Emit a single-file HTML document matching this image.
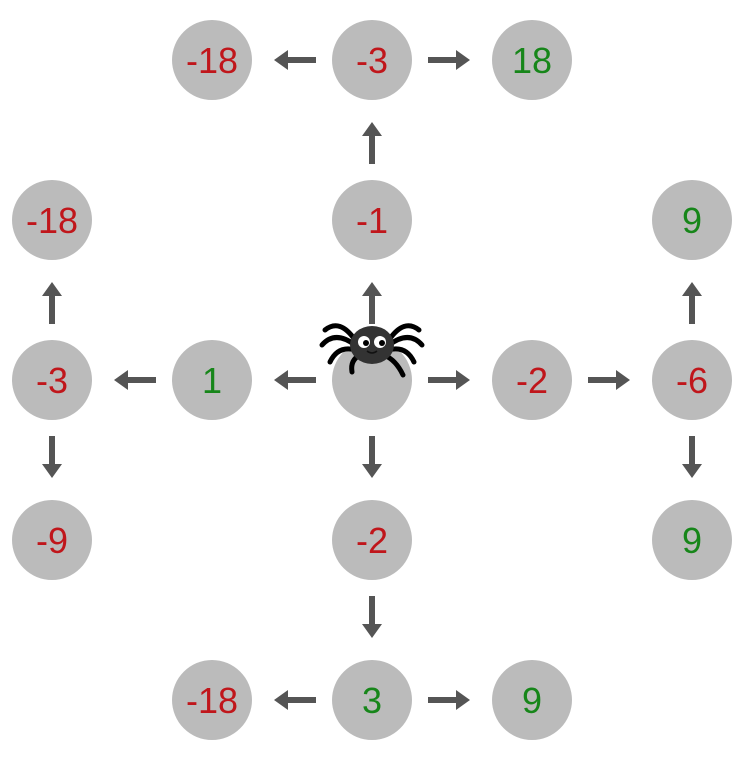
<!DOCTYPE html>
<html><head><meta charset="utf-8"><style>
body{margin:0;background:#fff;}
svg{display:block;}
text{font-family:"Liberation Sans",sans-serif;font-size:36px;}
</style></head><body>
<svg id="chart" width="744" height="758" viewBox="0 0 744 758"></svg>
<script>
const nodeCols=[1,2,3,0,2,4,0,1,3,4,0,2,4,1,2,3];
const nodeRows=[0,0,0,1,1,1,2,2,2,2,3,3,3,4,4,4];
const nodeValues=["-18","-3","18","-18","-1","9","-3","1","-2","-6","-9","-2","9","-18","3","9"];
const arrowFromCol=[2,2,2,2,2,2,2,1,0,0,3,4,4,2,2,2];
const arrowFromRow=[0,0,1,2,2,2,2,2,2,2,2,2,2,3,4,4];
const arrowDir=["L","R","U","U","L","R","D","L","U","D","R","U","D","D","L","R"];
const NS="http://www.w3.org/2000/svg";
const svg=document.getElementById('chart');
const cx=c=>52+160*c, cy=r=>60+160*r;
function mk(t,a){const e=document.createElementNS(NS,t);for(const k in a)e.setAttribute(k,a[k]);return e;}
nodeValues.forEach((v,i)=>{
  const g=mk('g',{});
  
  
  g.appendChild(mk('circle',{cx:cx(nodeCols[i]),cy:cy(nodeRows[i]),r:40,fill:'#bbbbbb'}));
  const t=mk('text',{x:cx(nodeCols[i]),y:cy(nodeRows[i])+13,'text-anchor':'middle',fill:v.startsWith('-')?'#c0161b':'#17861a'});
  t.textContent=v;g.appendChild(t);svg.appendChild(g);
});
const cg=mk('circle',{cx:cx(2),cy:cy(2),r:40,fill:'#bbbbbb'});


svg.appendChild(cg);
const dv={L:[-1,0],R:[1,0],U:[0,-1],D:[0,1]};
arrowDir.forEach((d,i)=>{
  const [dx,dy]=dv[d];const x=cx(arrowFromCol[i]),y=cy(arrowFromRow[i]);
  const ang=Math.atan2(dy,dx)*180/Math.PI;
  const g=mk('g',{transform:`translate(${x},${y}) rotate(${ang})`});
  
  
  g.appendChild(mk('rect',{x:56,y:-3,width:30,height:6,fill:'#555'}));
  g.appendChild(mk('polygon',{points:'84,-10 98,0 84,10',fill:'#555'}));
  svg.appendChild(g);
});
const sp=mk('g',{});


const legs=['M355,340 Q340,318 325,330','M355,345 Q335,330 322,345','M356,350 Q338,345 330,362','M360,355 Q350,360 352,372',
'M389,340 Q404,318 419,330','M389,345 Q409,330 422,345','M388,350 Q406,345 414,362','M384,355 Q396,360 403,375'];
legs.forEach(d=>sp.appendChild(mk('path',{d,stroke:'#000',fill:'none','stroke-width':5,'stroke-linecap':'round'})));
sp.appendChild(mk('ellipse',{cx:372,cy:345,rx:22,ry:19,fill:'#333'}));
sp.appendChild(mk('circle',{cx:364,cy:342,r:6,fill:'#fff'}));
sp.appendChild(mk('circle',{cx:380,cy:342,r:6,fill:'#fff'}));
sp.appendChild(mk('circle',{cx:366,cy:343,r:3,fill:'#000'}));
sp.appendChild(mk('circle',{cx:382,cy:343,r:3,fill:'#000'}));
sp.appendChild(mk('path',{d:'M367,351 Q372,355 377,351',stroke:'#111',fill:'none','stroke-width':1.5}));
svg.appendChild(sp);
</script>
</body></html>
